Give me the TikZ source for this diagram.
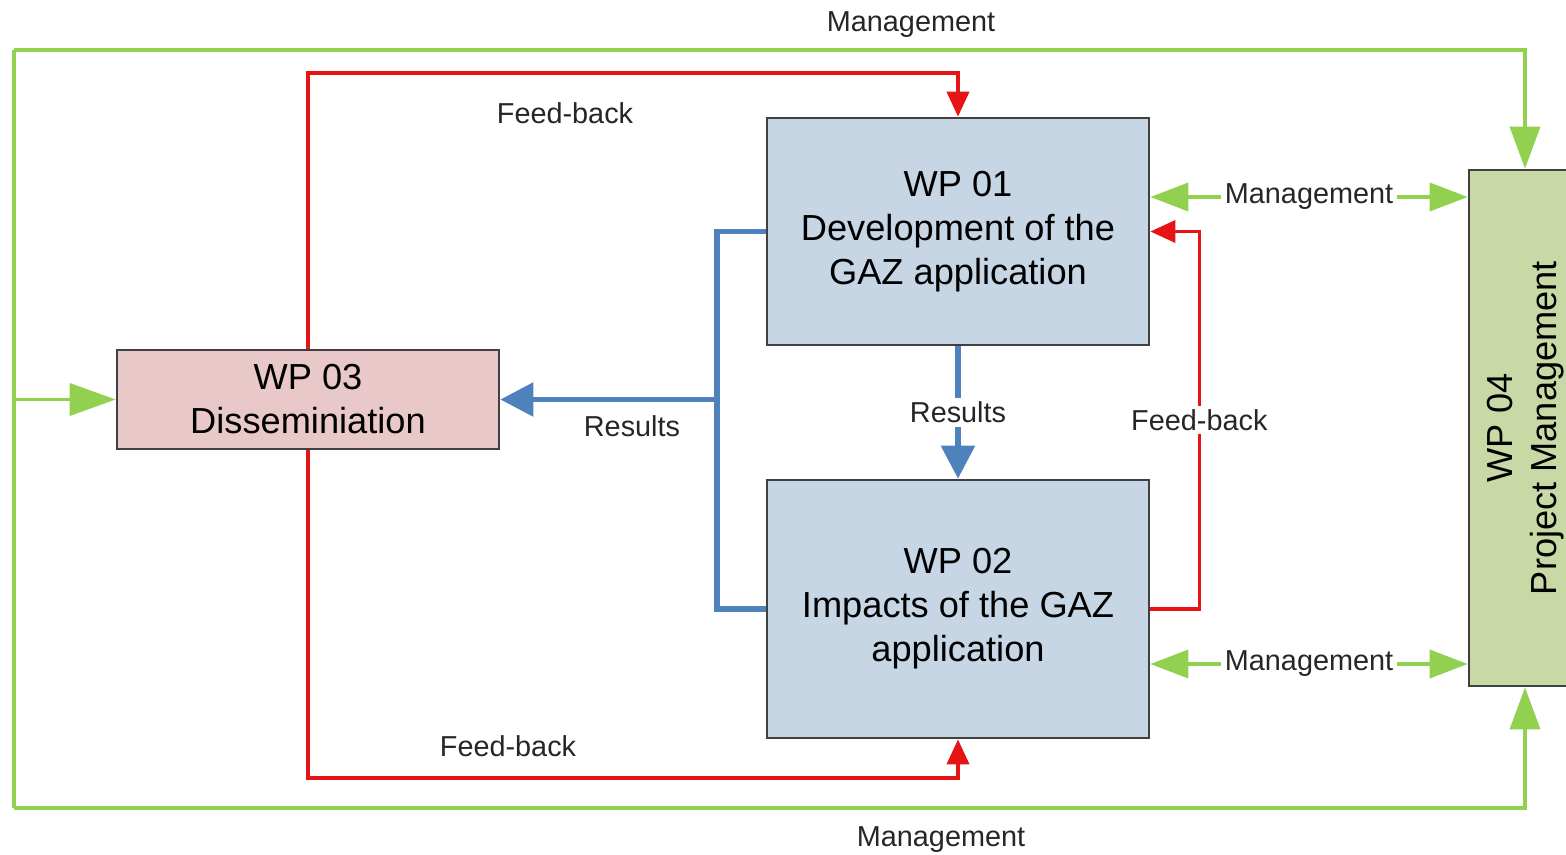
\documentclass[tikz,border=0pt]{standalone}
\usepackage{fontspec}
\setmainfont{Liberation Sans}
\usetikzlibrary{arrows.meta}
\definecolor{mgreen}{RGB}{146,208,80}
\definecolor{fred}{RGB}{230,20,20}
\definecolor{rblue}{RGB}{79,129,189}
\definecolor{wpblue}{RGB}{198,214,229}
\definecolor{wppink}{RGB}{232,200,200}
\definecolor{wpgreen}{RGB}{201,217,166}
\tikzset{
  wptext/.style={align=center, inner sep=0pt,
    font=\fontsize{10.3pt}{12.5pt}\selectfont},
  wpbox/.style={wptext, draw=black!75, line width=0.7pt},
  mg/.style={draw=mgreen, line width=1.05pt},
  mgtip/.style={-{Triangle[length=0.42cm,width=0.3cm]}},
  fb/.style={draw=fred, line width=1.05pt, -{Triangle[length=0.25cm,width=0.22cm]}},
  res/.style={draw=rblue, line width=1.6pt},
  restip/.style={-{Triangle[length=0.33cm,width=0.33cm]}},
  lbl/.style={font=\fontsize{8.2pt}{10pt}\selectfont, text=black!85, inner sep=1pt},
  wlbl/.style={lbl, fill=white}
}
\begin{document}
\begin{tikzpicture}[x=0.01cm,y=-0.01cm]
\useasboundingbox (0,0) rectangle (1566,854);
% boxes
\node[wpbox, fill=wpblue, minimum width=3.82cm, minimum height=2.27cm] (wp1) at (958,231.5)
  {WP 01\\Development of the\\GAZ application};
\node[wpbox, fill=wpblue, minimum width=3.82cm, minimum height=2.58cm] (wp2) at (958,609)
  {WP 02\\Impacts of the GAZ\\application};
\node[wpbox, fill=wppink, minimum width=3.82cm, minimum height=0.99cm] (wp3) at (308,399.5)
  {\raisebox{0.07cm}{\parbox{3.8cm}{\centering WP 03\\Disseminiation}}};
\node[wpbox, fill=wpgreen, minimum width=1.12cm, minimum height=5.16cm] (wp4) at (1525,428) {};
\node[wptext, rotate=90] (wp4t) at (1526,428) {WP 04\\Project Management};
% coordinates
\coordinate (tl) at (14,50);
\coordinate (bl) at (14,808);
\coordinate (m1) at (0,197);
\coordinate (m2) at (0,664);
\coordinate (ft) at (958,73);
\coordinate (fbt) at (958,778);
\coordinate (bj) at (717,399.5);
% green management lines
\draw[mg] (tl) -- (bl);
\draw[mg, mgtip] (tl) -| (wp4.north);
\draw[mg, mgtip] (bl) -| (wp4.south);
\draw[mg, -{Triangle[length=0.46cm,width=0.32cm]}] (tl |- wp3.west) -- (wp3.west);
\draw[mg, {Triangle[length=0.38cm,width=0.28cm]}-{Triangle[length=0.38cm,width=0.28cm]}]
  (wp1.east |- m1) -- node[wlbl] (lm1) {Management} (wp4.west |- m1);
\draw[mg, {Triangle[length=0.38cm,width=0.28cm]}-{Triangle[length=0.38cm,width=0.28cm]}]
  (wp2.east |- m2) -- node[wlbl] (lm2) {Management} (wp4.west |- m2);
\node[lbl] (lmt) at (911,25) {Management};
\node[lbl] (lmb) at (941,840) {Management};
% red feedback lines
\draw[fb] (wp3.north) |- (ft) -- (wp1.north);
\draw[fb] (wp3.south) |- (fbt) -- (wp2.south);
\draw[fb] (wp2.east) -- ++(49,0) |- node[pos=0.25, wlbl] (lfr) {Feed-back} (wp1.east);
\node[lbl] (lft) at (565,113) {Feed-back};
\node[lbl] (lfb) at (508,746) {Feed-back};
% blue results lines
\draw[res] (wp1.west) -| (bj) |- (wp2.west);
\draw[res, restip] (bj) -- (wp3.east);
\draw[res, restip] (wp1.south) -- node[wlbl] (lrv) {Results} (wp2.north);
\node[lbl] (lrl) at (632,426) {Results};
\end{tikzpicture}
\end{document}
